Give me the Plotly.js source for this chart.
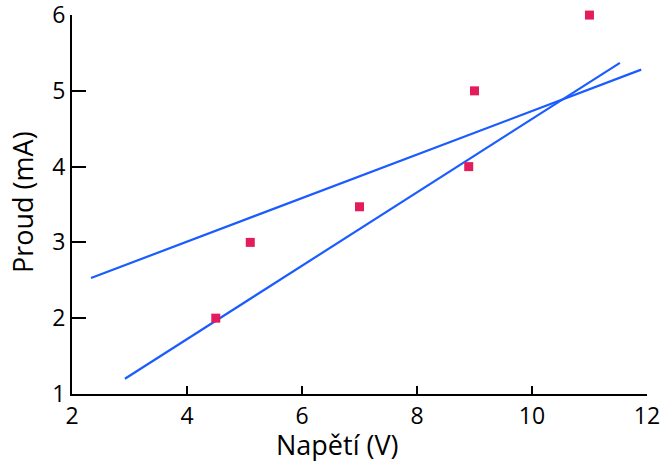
<!DOCTYPE html>
<html>
<head>
<meta charset="utf-8">
<script src="https://cdn.plot.ly/plotly-3.0.1.min.js"></script>
<style>html,body{margin:0;padding:0;background:#fff;}#chart{width:661px;height:461px;}</style>
</head>
<body>
<div id="chart"></div>
<script>
const voltage = [4.5, 5.1, 7.0, 8.9, 9.0, 11.0];
const current = [2.0, 3.0, 3.47, 4.0, 5.0, 6.0];
const line1X = [2.33, 11.9];
const line1Y = [2.53, 5.28];
const line2X = [2.92, 11.53];
const line2Y = [1.2, 5.37];
const xTicks = [2, 4, 6, 8, 10, 12];
const yTicks = [1, 2, 3, 4, 5, 6];
const xTitle = 'Napětí (V)';
const yTitle = 'Proud (mA)';

const font = "Open Sans, Lato, sans-serif";
const data = [
  {x: line1X, y: line1Y, mode: 'lines', line: {color: '#1a5cff', width: 2.2}, hoverinfo: 'skip', cliponaxis: false},
  {x: line2X, y: line2Y, mode: 'lines', line: {color: '#1a5cff', width: 2.2}, hoverinfo: 'skip', cliponaxis: false},
  {x: voltage, y: current, mode: 'markers', marker: {symbol: 'square', size: 9, color: '#e31c5a'}, cliponaxis: false}
];
const layout = {
  width: 661, height: 461,
  margin: {l: 72, r: 14, t: 15, b: 67},
  showlegend: false,
  plot_bgcolor: '#fff', paper_bgcolor: '#fff',
  font: {family: font, color: '#000', size: 23},
  xaxis: {
    range: [1.999, 12.001], tickvals: xTicks, ticktext: xTicks.map(String),
    showgrid: false, zeroline: false, showline: true, linecolor: '#000', linewidth: 2,
    ticks: 'inside', ticklen: 8, tickwidth: 1.5, tickcolor: '#000',
    tickfont: {size: 23, family: font, color: '#000'},
    ticklabeloverflow: 'allow'
  },
  yaxis: {
    range: [0.999, 6.001], tickvals: yTicks, ticktext: yTicks.map(String),
    showgrid: false, zeroline: false, showline: true, linecolor: '#000', linewidth: 2,
    ticks: 'inside', ticklen: 14, tickwidth: 1.5, tickcolor: '#000',
    tickfont: {size: 23, family: font, color: '#000'},
    ticklabeloverflow: 'allow'
  },
  annotations: [
    {text: xTitle, xref: 'paper', yref: 'paper', x: 0.4617, y: -0.134, xanchor: 'center', yanchor: 'middle',
     showarrow: false, font: {size: 27, family: font, color: '#000'}},
    {text: yTitle, xref: 'paper', yref: 'paper', x: -0.0852, y: 0.5066, xanchor: 'center', yanchor: 'middle',
     textangle: -90, showarrow: false, font: {size: 27, family: font, color: '#000'}}
  ]
};
Plotly.newPlot('chart', data, layout, {displayModeBar: false});
</script>
</body>
</html>
